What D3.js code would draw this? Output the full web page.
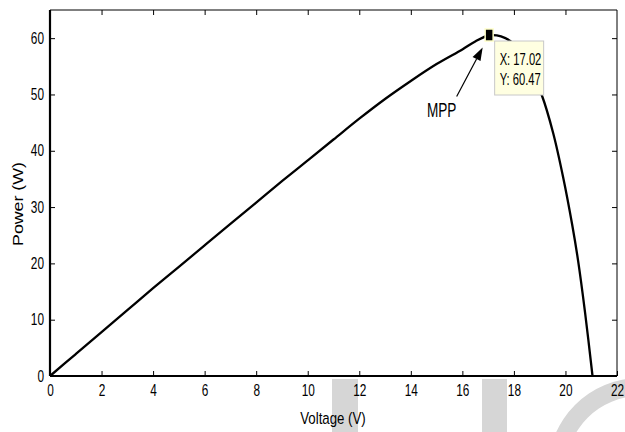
<!DOCTYPE html>
<html>
<head>
<meta charset="utf-8">
<script src="https://cdn.jsdelivr.net/npm/d3@7"></script>
<style>
  html, body { margin: 0; padding: 0; background: #fff; }
  svg { display: block; }
</style>
</head>
<body>
<div id="chart"></div>
<script>
// P-V curve of the PV module
const voltage = [0, 1, 2, 3, 4, 5, 6, 7, 8, 9, 10, 11, 12, 13, 14, 15, 16, 16.5, 17.02, 17.5, 18, 18.5, 19.08, 19.52, 19.91, 20.26, 20.49, 20.76, 21.05];
const power   = [0, 3.9, 7.8, 11.7, 15.6, 19.4, 23.2, 27.0, 30.8, 34.6, 38.3, 42.0, 45.7, 49.2, 52.4, 55.4, 58.0, 59.4, 60.47, 60.3, 59.0, 55.8, 49.9, 43.2, 35.3, 26.9, 20.5, 11.3, 0];
const xTicks = [0, 2, 4, 6, 8, 10, 12, 14, 16, 18, 20, 22];
const yTicks = [0, 10, 20, 30, 40, 50, 60];
const mpp = { v: 17.02, p: 60.47 };

const W = 625, H = 432;
const margin = { top: 10, right: 8, bottom: 56, left: 50 };
const width = W - margin.left - margin.right,
      height = H - margin.top - margin.bottom;

const font = "'Liberation Sans', Arial, sans-serif";

// the original figure is squeezed sideways, so text is narrowed with scaleX
function squeeze(sel, sx) {
    sel.each(function () {
        const t = d3.select(this);
        const x0 = +t.attr("x") || 0;
        const tr = t.attr("transform") || "";
        t.attr("x", x0 / sx).attr("transform", `${tr} scale(${sx},1)`);
    });
}

const root = d3.select("#chart").append("svg")
    .attr("width", W)
    .attr("height", H);

// faint watermark behind everything
root.append("clipPath").attr("id", "wmclip")
    .append("rect").attr("x", 0).attr("y", 379).attr("width", W).attr("height", 60);
const wm = root.append("g").attr("fill", "#d6d6d6").attr("clip-path", "url(#wmclip)");
wm.append("rect").attr("x", 332).attr("y", 379).attr("width", 26).attr("height", 53);
wm.append("rect").attr("x", 482).attr("y", 379).attr("width", 25).attr("height", 53);
wm.append("path")
    .attr("d", d3.arc().innerRadius(74).outerRadius(92).startAngle(0).endAngle(2 * Math.PI)())
    .attr("transform", "translate(640,470)");

const svg = root.append("g")
    .attr("transform", `translate(${margin.left},${margin.top})`);

const x = d3.scaleLinear().domain([0, 22]).range([0, width]);
const y = d3.scaleLinear().domain([0, 65]).range([height, 0]);

// bottom axis, ticks inward
svg.append("g")
    .attr("transform", `translate(0,${height})`)
    .call(d3.axisBottom(x).tickValues(xTicks).tickSize(-5).tickPadding(9).tickSizeOuter(0))
    .call(g => g.select(".domain").remove())
    .call(g => g.selectAll("text").attr("font-family", font).attr("font-size", 16).attr("fill", "#000"))
    .call(g => squeeze(g.selectAll("text"), 0.74));

// top ticks
svg.append("g")
    .call(d3.axisTop(x).tickValues(xTicks.slice(1, -1)).tickSize(-5).tickFormat("").tickSizeOuter(0))
    .call(g => g.select(".domain").remove());

// left axis
svg.append("g")
    .call(d3.axisLeft(y).tickValues(yTicks).tickSize(-5).tickPadding(6).tickSizeOuter(0))
    .call(g => g.select(".domain").remove())
    .call(g => g.selectAll("text").attr("font-family", font).attr("font-size", 16).attr("fill", "#000"))
    .call(g => squeeze(g.selectAll("text"), 0.74));

// right ticks
svg.append("g")
    .attr("transform", `translate(${width},0)`)
    .call(d3.axisRight(y).tickValues(yTicks.slice(1)).tickSize(-5).tickFormat("").tickSizeOuter(0))
    .call(g => g.select(".domain").remove());

// frame
svg.append("line").attr("x1", 0).attr("x2", width).attr("y1", 0).attr("y2", 0)
    .attr("stroke", "#000").attr("stroke-width", 1);
svg.append("line").attr("x1", width).attr("x2", width).attr("y1", 0).attr("y2", height)
    .attr("stroke", "#000").attr("stroke-width", 1);
svg.append("line").attr("x1", 0).attr("x2", width).attr("y1", height).attr("y2", height)
    .attr("stroke", "#000").attr("stroke-width", 2.2);
svg.append("line").attr("x1", 0).attr("x2", 0).attr("y1", 0).attr("y2", height)
    .attr("stroke", "#000").attr("stroke-width", 2.2);

// the curve
const data = voltage.map((v, i) => ({ v: v, p: power[i] }));
svg.append("path")
    .datum(data)
    .attr("fill", "none")
    .attr("stroke", "#000")
    .attr("stroke-width", 2.3)
    .attr("stroke-linejoin", "round")
    .attr("d", d3.line()
        .x(d => x(d.v))
        .y(d => y(d.p))
        .curve(d3.curveCatmullRom.alpha(0.5)));

// MPP marker
const mx = x(mpp.v), my = y(mpp.p);
svg.append("rect")
    .attr("x", mx - 3.5).attr("y", my - 6.5)
    .attr("width", 8).attr("height", 12)
    .attr("fill", "#000")
    .attr("stroke", "#ffffc8").attr("stroke-width", 1.5);

// data tip
const tip = svg.append("g").attr("transform", `translate(${mx + 6},${my + 5.5})`);
tip.append("rect")
    .attr("width", 49).attr("height", 54)
    .attr("fill", "#ffffe1")
    .attr("stroke", "#c8c8c8").attr("stroke-width", 1);
tip.append("text").attr("x", 5).attr("y", 24)
    .attr("font-family", font).attr("font-size", 16)
    .text("X: " + mpp.v.toFixed(2));
tip.append("text").attr("x", 5).attr("y", 44)
    .attr("font-family", font).attr("font-size", 16)
    .text("Y: " + mpp.p.toFixed(2));
squeeze(tip.selectAll("text"), 0.7);

// arrow + label
const tail = [mx - 32, my + 61], head = [mx - 6, my + 12];
const ang = Math.atan2(head[1] - tail[1], head[0] - tail[0]);
const hl = 13, hw = 4.5;
const base = [head[0] - hl * Math.cos(ang), head[1] - hl * Math.sin(ang)];
svg.append("line")
    .attr("x1", tail[0]).attr("y1", tail[1])
    .attr("x2", base[0]).attr("y2", base[1])
    .attr("stroke", "#000").attr("stroke-width", 1.2);
svg.append("path")
    .attr("fill", "#000")
    .attr("d", d3.line()([
        head,
        [base[0] + hw * Math.sin(ang), base[1] - hw * Math.cos(ang)],
        [base[0] - hw * Math.sin(ang), base[1] + hw * Math.cos(ang)]
    ]) + "Z");
const mppLabel = svg.append("text")
    .attr("x", mx - 47).attr("y", my + 82)
    .attr("text-anchor", "middle")
    .attr("font-family", font).attr("font-size", 20)
    .text("MPP");
squeeze(mppLabel, 0.68);

// axis titles
const xTitle = root.append("text")
    .attr("x", 333).attr("y", 424)
    .attr("text-anchor", "middle")
    .attr("font-family", font).attr("font-size", 17)
    .text("Voltage (V)");
squeeze(xTitle, 0.78);
root.append("text")
    .attr("transform", "translate(23,204) rotate(-90)")
    .attr("text-anchor", "middle")
    .attr("font-family", font).attr("font-size", 15)
    .attr("textLength", 84).attr("lengthAdjust", "spacingAndGlyphs")
    .text("Power (W)");
</script>
</body>
</html>
